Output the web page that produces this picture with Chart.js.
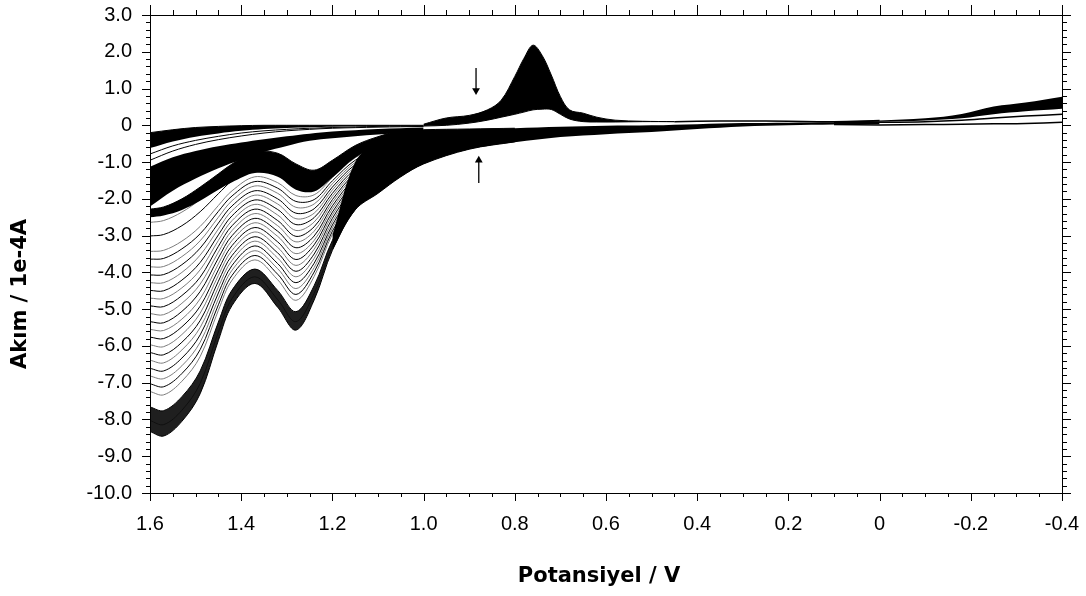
<!DOCTYPE html>
<html><head><meta charset="utf-8">
<script src="https://cdn.jsdelivr.net/npm/chart.js@4.4.1/dist/chart.umd.min.js"></script>
<style>html,body{margin:0;padding:0;background:#fff;overflow:hidden}canvas{display:block}</style>
</head><body>
<canvas id="c" width="1086" height="596"></canvas>
<script>
// ---------- axis text ----------
const xTitle = 'Potansiyel / V';
const yTitle = 'Akım / 1e-4A';
const xRange = [-0.4, 1.6];
const yRange = [-10, 3];

// ---------- forward sweeps with the two oxidation waves (first cycle -> last cycle) ----------
const humpPotentials = [0.8, 0.9, 1.0, 1.05, 1.1, 1.15, 1.2, 1.24, 1.28, 1.32, 1.37, 1.42, 1.45, 1.49, 1.53, 1.57, 1.6];
const anodicSweeps = [
  [-0.45,-0.65,-1.05,-1.40,-1.85,-2.30,-3.40,-4.75,-5.57,-4.95,-4.30,-4.90,-5.85,-7.30,-8.05,-8.45,-8.33],
  [-0.43,-0.62,-1.00,-1.34,-1.77,-2.21,-3.28,-4.57,-5.34,-4.74,-4.12,-4.71,-5.62,-7.02,-7.75,-8.14,-8.03],
  [-0.41,-0.59,-0.95,-1.26,-1.68,-2.11,-3.13,-4.36,-5.07,-4.49,-3.91,-4.48,-5.35,-6.68,-7.38,-7.76,-7.66],
  [-0.38,-0.55,-0.88,-1.18,-1.57,-1.99,-2.96,-4.11,-4.76,-4.20,-3.66,-4.21,-5.03,-6.29,-6.96,-7.33,-7.24],
  [-0.37,-0.53,-0.85,-1.14,-1.52,-1.93,-2.88,-3.99,-4.60,-4.05,-3.54,-4.08,-4.88,-6.10,-6.75,-7.11,-7.03],
  [-0.36,-0.51,-0.82,-1.09,-1.47,-1.86,-2.79,-3.87,-4.44,-3.90,-3.41,-3.94,-4.72,-5.90,-6.54,-6.89,-6.82],
  [-0.35,-0.49,-0.79,-1.05,-1.42,-1.80,-2.71,-3.75,-4.28,-3.76,-3.28,-3.81,-4.56,-5.70,-6.33,-6.68,-6.61],
  [-0.33,-0.47,-0.75,-1.00,-1.36,-1.74,-2.62,-3.62,-4.12,-3.61,-3.15,-3.67,-4.40,-5.50,-6.11,-6.46,-6.39],
  [-0.32,-0.46,-0.72,-0.96,-1.31,-1.68,-2.53,-3.50,-3.97,-3.47,-3.03,-3.54,-4.24,-5.31,-5.90,-6.24,-6.18],
  [-0.31,-0.44,-0.69,-0.91,-1.25,-1.62,-2.44,-3.37,-3.81,-3.32,-2.90,-3.40,-4.08,-5.11,-5.69,-6.02,-5.97],
  [-0.30,-0.42,-0.66,-0.87,-1.20,-1.56,-2.36,-3.25,-3.65,-3.17,-2.78,-3.27,-3.93,-4.92,-5.48,-5.80,-5.76],
  [-0.28,-0.40,-0.62,-0.83,-1.14,-1.50,-2.27,-3.13,-3.49,-3.02,-2.65,-3.13,-3.77,-4.72,-5.27,-5.58,-5.55],
  [-0.27,-0.38,-0.59,-0.79,-1.09,-1.44,-2.19,-3.01,-3.33,-2.88,-2.53,-3.00,-3.61,-4.52,-5.06,-5.37,-5.34],
  [-0.25,-0.36,-0.56,-0.74,-1.03,-1.37,-2.10,-2.88,-3.17,-2.73,-2.40,-2.86,-3.45,-4.32,-4.84,-5.15,-5.12],
  [-0.24,-0.34,-0.53,-0.70,-0.98,-1.31,-2.02,-2.76,-3.02,-2.59,-2.28,-2.73,-3.29,-4.13,-4.63,-4.93,-4.91],
  [-0.23,-0.32,-0.49,-0.65,-0.93,-1.25,-1.93,-2.63,-2.86,-2.44,-2.15,-2.59,-3.13,-3.93,-4.42,-4.71,-4.70],
  [-0.22,-0.30,-0.46,-0.61,-0.88,-1.19,-1.85,-2.51,-2.70,-2.29,-2.03,-2.46,-2.98,-3.73,-4.21,-4.50,-4.49],
  [-0.20,-0.28,-0.43,-0.56,-0.82,-1.13,-1.76,-2.39,-2.54,-2.14,-1.90,-2.32,-2.82,-3.53,-4.00,-4.28,-4.28],
  [-0.19,-0.26,-0.40,-0.52,-0.77,-1.07,-1.68,-2.27,-2.39,-2.00,-1.78,-2.19,-2.66,-3.34,-3.79,-4.06,-4.07],
  [-0.18,-0.24,-0.36,-0.48,-0.71,-1.01,-1.59,-2.14,-2.23,-1.85,-1.65,-2.05,-2.50,-3.14,-3.57,-3.84,-3.85],
  [-0.17,-0.22,-0.33,-0.44,-0.66,-0.95,-1.51,-2.02,-2.07,-1.71,-1.53,-1.92,-2.34,-2.95,-3.36,-3.62,-3.64],
  [-0.15,-0.20,-0.30,-0.39,-0.60,-0.88,-1.42,-1.89,-1.91,-1.56,-1.40,-1.78,-2.18,-2.75,-3.15,-3.40,-3.43],
  [-0.12,-0.17,-0.23,-0.30,-0.50,-0.76,-1.24,-1.64,-1.59,-1.26,-1.15,-1.51,-1.86,-2.35,-2.73,-2.97,-3.01],
  [-0.10,-0.13,-0.18,-0.23,-0.40,-0.66,-1.10,-1.43,-1.32,-1.01,-0.94,-1.28,-1.59,-2.02,-2.36,-2.59,-2.64],
  [-0.08,-0.10,-0.12,-0.15,-0.31,-0.55,-0.95,-1.22,-1.05,-0.76,-0.72,-1.05,-1.32,-1.68,-2.00,-2.22,-2.28]
];
// lower edge of the dense band formed by the last cycles
const lateClusterLower = [-0.15,-0.20,-0.30,-0.39,-0.60,-0.88,-1.42,-1.80,-1.75,-1.40,-1.30,-1.55,-1.75,-2.05,-2.30,-2.45,-2.50];

// ---------- current decay after the 1.6 V switching point ----------
const decayPotentials = [1.6, 1.55, 1.5, 1.45, 1.4, 1.35, 1.3, 1.25, 1.2, 1.1, 1.0];
const topBandUpper  = [-0.20,-0.12,-0.06,-0.03,-0.01, 0.00, 0.00, 0.00, 0.00, 0.00, 0.00];
const topBandLower  = [-0.62,-0.44,-0.31,-0.22,-0.15,-0.10,-0.07,-0.05,-0.04,-0.02,-0.01];
const decayLineA    = [-0.78,-0.56,-0.41,-0.30,-0.21,-0.15,-0.11,-0.08,-0.06,-0.03,-0.02];
const decayLineB    = [-0.95,-0.70,-0.52,-0.39,-0.29,-0.21,-0.15,-0.11,-0.08,-0.05,-0.03];
const diagBandUpper = [-1.13,-0.87,-0.70,-0.57,-0.47,-0.38,-0.30,-0.23,-0.17,-0.10,-0.06];
const diagBandLower = [-2.21,-1.78,-1.45,-1.17,-0.93,-0.72,-0.56,-0.42,-0.35,-0.25,-0.18];

// ---------- reduction peak near 0.76 V (first and last cycle) ----------
const peakPotentials = [1.0, 0.95, 0.9, 0.86, 0.83, 0.8, 0.78, 0.76, 0.74, 0.72, 0.7, 0.68, 0.65, 0.62, 0.58, 0.52, 0.45];
const peakFirst = [0.03, 0.20, 0.27, 0.42, 0.68, 1.33, 1.82, 2.18, 1.90, 1.37, 0.78, 0.42, 0.33, 0.22, 0.14, 0.11, 0.10];
const peakLast  = [-0.02, 0.00, 0.06, 0.14, 0.22, 0.30, 0.36, 0.42, 0.44, 0.43, 0.30, 0.17, 0.10, 0.09, 0.09, 0.10, 0.10];
const tailPotentials = [0.45, 0.4, 0.3, 0.2, 0.1, 0.0];
const tailCurrents   = [0.10, 0.11, 0.12, 0.11, 0.10, 0.13];

// ---------- low-potential band of the forward sweeps ----------
const lowPotentials = [1.2, 1.15, 1.1, 1.05, 1.0, 0.95, 0.9, 0.85, 0.8, 0.7, 0.6, 0.5, 0.4, 0.3, 0.2, 0.1, 0.0];
const lowBandUpper  = [-3.00,-1.00,-0.45,-0.23,-0.16,-0.13,-0.12,-0.10,-0.08,-0.04,-0.01, 0.00, 0.03, 0.06, 0.07, 0.08, 0.09];
const lowBandLower  = [-3.40,-2.30,-1.85,-1.40,-1.05,-0.82,-0.65,-0.54,-0.46,-0.32,-0.24,-0.18,-0.10,-0.03, 0.00, 0.02, 0.03];

// ---------- negative end of the scan ----------
const rightPotentials = [0.1, 0.0, -0.1, -0.18, -0.25, -0.32, -0.4];
const rightBandUpper  = [0.10, 0.13, 0.19, 0.31, 0.51, 0.62, 0.78];
const rightBandLower  = [0.09, 0.10, 0.13, 0.19, 0.30, 0.38, 0.45];
const rightLineMid    = [0.07, 0.08, 0.10, 0.14, 0.20, 0.25, 0.30];
const rightLineLow    = [0.02, 0.01, 0.02, 0.03, 0.04, 0.05, 0.08];

// ---------- arrows (potential, from current, to current) ----------
const arrowDown = [0.885, 1.56, 0.95];
const arrowUp   = [0.879, -1.57, -0.95];

// ================= build =================
const tickFont = {family:'"Liberation Sans", Arial, sans-serif', size:20};

function pts(potentials, currents){
  return potentials.map((v,i)=>({x:v, y:currents[i]})).sort((a,b)=>b.x-a.x);
}
const datasets = [];
const T = 0.35;
function band(pU, u, pL, l, color, order){
  datasets.push({data:pts(pU,u), fill:'+1', backgroundColor:color, borderColor:'rgba(0,0,0,0)', borderWidth:0, pointRadius:0, tension:T, order});
  datasets.push({data:pts(pL,l), fill:false, backgroundColor:'rgba(0,0,0,0)', borderColor:'rgba(0,0,0,0)', borderWidth:0, pointRadius:0, tension:T, order});
}
function line(p, c, color, width, order){
  datasets.push({data:pts(p,c), fill:false, borderColor:color, borderWidth:width, pointRadius:0, tension:T, order});
}

// filled dense regions (drawn above the individual humped cycles)
band(lowPotentials, lowBandUpper, lowPotentials, lowBandLower, '#000', 10);
band(decayPotentials, topBandUpper, decayPotentials, topBandLower, '#000', 10);
band(decayPotentials, diagBandUpper, decayPotentials, diagBandLower, '#000', 10);
band(peakPotentials, peakFirst, peakPotentials, peakLast, '#000', 10);
band(rightPotentials, rightBandUpper, rightPotentials, rightBandLower, '#000', 10);
band(humpPotentials, anodicSweeps[0], humpPotentials, anodicSweeps[2], 'rgba(0,0,0,0.88)', 10);
band(humpPotentials, anodicSweeps[24], humpPotentials, lateClusterLower, '#000', 10);

// individual cycles (drawn first, underneath)
anodicSweeps.forEach((row,i)=> line(humpPotentials, row, i%2 ? '#7c7c7c' : '#000', 1, 20));
line(decayPotentials, decayLineA, '#000', 1, 4);
line(decayPotentials, decayLineB, '#000', 1, 4);
line(decayPotentials, topBandUpper, '#000', 1, 4);
line(peakPotentials, peakFirst, '#000', 1, 4);
line(peakPotentials, peakLast, '#000', 1, 4);
line(tailPotentials, tailCurrents, '#000', 1.5, 4);
line(rightPotentials, rightLineMid, '#000', 1.5, 4);
line(rightPotentials, rightLineLow, '#000', 1.5, 4);

// arrows
[[arrowDown,180],[arrowUp,0]].forEach(([a,rot])=>{
  datasets.push({data:[{x:a[0],y:a[1]},{x:a[0],y:a[2]}], fill:false, borderColor:'#000', backgroundColor:'#000',
    borderWidth:1.3, tension:0, pointRadius:[0,4.5], pointStyle:'triangle', pointRotation:rot, pointBorderWidth:0, order:0});
});

const fmt = v => Math.abs(v) < 1e-9 ? '0' : Number(v).toFixed(1);

const framePlugin = {
  id:'frame',
  afterDatasetsDraw(chart){
    const {ctx, chartArea:a, scales:{x, y}} = chart;
    ctx.save();
    ctx.strokeStyle = '#000'; ctx.lineWidth = 1;
    ctx.strokeRect(Math.round(a.left)+0.5, Math.round(a.top)+0.5, Math.round(a.right-a.left), Math.round(a.bottom-a.top));
    ctx.beginPath();
    for (let i=0;i<=40;i++){
      const v = xRange[0] + i*0.05; const px = Math.round(x.getPixelForValue(v))+0.5;
      const major = i%4===0;
      ctx.moveTo(px, a.bottom); ctx.lineTo(px, a.bottom + (major?8:4));
      ctx.moveTo(px, a.top); ctx.lineTo(px, a.top - (major?10:5));
    }
    for (let i=0;i<=65;i++){
      const v = yRange[0] + i*0.2; const py = Math.round(y.getPixelForValue(v))+0.5;
      const major = i%5===0;
      ctx.moveTo(a.left, py); ctx.lineTo(a.left - (major?8:4), py);
      ctx.moveTo(a.right, py); ctx.lineTo(a.right + (major?9:5), py);
    }
    ctx.stroke();
    // axis titles
    ctx.fillStyle = '#000';
    ctx.font = 'bold 21px "DejaVu Sans", "Liberation Sans", sans-serif';
    ctx.textAlign = 'center'; ctx.textBaseline = 'middle';
    ctx.fillText(xTitle, (a.left+a.right)/2 - 7, 577);
    ctx.translate(21, (a.top+a.bottom)/2 + 40);
    ctx.rotate(-Math.PI/2);
    ctx.fillText(yTitle, 0, 0);
    ctx.restore();
  }
};

new Chart(document.getElementById('c').getContext('2d'), {
  type:'line',
  data:{datasets},
  options:{
    responsive:false, animation:false, devicePixelRatio:1,
    layout:{padding:{top:15, right:24, bottom:0, left:0}},
    plugins:{legend:{display:false}, tooltip:{enabled:false}},
    scales:{
      x:{type:'linear', reverse:true, min:xRange[0], max:xRange[1],
         ticks:{stepSize:0.2, callback:fmt, color:'#000', font:tickFont, padding:0, maxRotation:0, autoSkip:false},
         grid:{display:false, drawTicks:true, tickLength:19}, border:{display:false},
         afterFit(s){ s.height = 103; }},
      y:{type:'linear', min:yRange[0], max:yRange[1],
         ticks:{stepSize:1, callback:fmt, color:'#000', font:tickFont, padding:0, autoSkip:false},
         grid:{display:false, drawTicks:true, tickLength:18}, border:{display:false},
         afterFit(s){ s.width = 150; }}
    }
  },
  plugins:[framePlugin]
});
</script>
</body></html>
